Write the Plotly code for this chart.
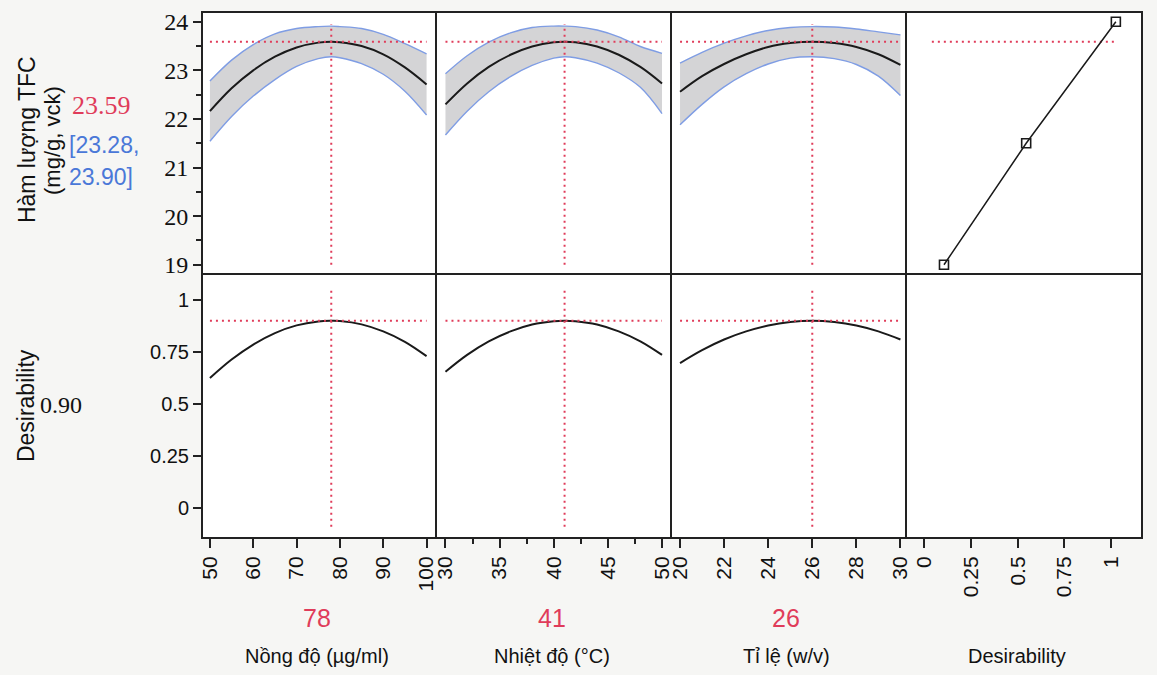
import plotly.graph_objects as go
from plotly.subplots import make_subplots

# ---------------- data ----------------
# Panel 1: Nồng độ (µg/ml)
conc_x = [50, 55, 60, 65, 70, 75, 78, 80, 85, 90, 95, 100]
conc_tfc = [22.16, 22.63, 23.00, 23.28, 23.47, 23.57, 23.59, 23.58, 23.50, 23.33, 23.06, 22.71]
conc_hi = [22.78, 23.21, 23.53, 23.75, 23.86, 23.90, 23.91, 23.90, 23.86, 23.74, 23.55, 23.34]
conc_lo = [21.54, 22.05, 22.47, 22.81, 23.08, 23.24, 23.28, 23.26, 23.14, 22.92, 22.57, 22.08]
conc_des = [0.625, 0.714, 0.786, 0.841, 0.878, 0.897, 0.900, 0.899, 0.883, 0.849, 0.799, 0.730]

# Panel 2: Nhiệt độ (°C)
temp_x = [30, 32, 34, 36, 38, 40, 41, 42, 44, 46, 48, 50]
temp_tfc = [22.30, 22.73, 23.07, 23.32, 23.49, 23.58, 23.59, 23.58, 23.49, 23.32, 23.07, 22.73]
temp_hi = [22.93, 23.30, 23.58, 23.77, 23.88, 23.91, 23.91, 23.90, 23.83, 23.69, 23.49, 23.35]
temp_lo = [21.67, 22.16, 22.56, 22.87, 23.10, 23.25, 23.28, 23.26, 23.15, 22.95, 22.65, 22.11]
temp_des = [0.655, 0.736, 0.801, 0.849, 0.882, 0.898, 0.900, 0.898, 0.882, 0.849, 0.801, 0.736]

# Panel 3: Tỉ lệ (w/v)
ratio_x = [20, 21, 22, 23, 24, 25, 26, 27, 28, 29, 30]
ratio_tfc = [22.56, 22.88, 23.13, 23.33, 23.48, 23.56, 23.59, 23.56, 23.48, 23.33, 23.11]
ratio_hi = [23.15, 23.37, 23.56, 23.71, 23.82, 23.88, 23.90, 23.89, 23.85, 23.79, 23.73]
ratio_lo = [21.88, 22.30, 22.66, 22.93, 23.13, 23.25, 23.28, 23.24, 23.12, 22.88, 22.48]
ratio_des = [0.697, 0.759, 0.810, 0.849, 0.877, 0.894, 0.900, 0.894, 0.877, 0.849, 0.810]

# Panel 4: desirability function of TFC
dfun_des = [0.105, 0.545, 1.025]
dfun_tfc = [19.0, 21.5, 24.0]

# Current settings / predictions
settings = [78, 41, 26]
pred_tfc = 23.59
pred_lo, pred_hi = 23.28, 23.90
pred_des = 0.90
vline_span_top = [19.0, 23.95]
vline_span_bot = [-0.09, 1.06]
dfun_hline_x = [0.04, 1.03]

x_titles = ["Nồng độ (µg/ml)", "Nhiệt độ (°C)", "Tỉ lệ (w/v)", "Desirability"]
x_ranges = [[48.17, 102.06], [29.08, 50.83], [19.59, 30.23], [-0.101, 1.165]]
x_tickvals = [[50, 60, 70, 80, 90, 100], [30, 35, 40, 45, 50], [20, 22, 24, 26, 28, 30],
              [0, 0.25, 0.5, 0.75, 1]]
x_ticktext = [["50", "60", "70", "80", "90", "100"], ["30", "35", "40", "45", "50"],
              ["20", "22", "24", "26", "28", "30"], ["0", "0.25", "0.5", "0.75", "1"]]
y_top_ticks = [19, 20, 21, 22, 23, 24]
y_bot_ticks = [0, 0.25, 0.5, 0.75, 1]
y_bot_text = ["0", "0.25", "0.5", "0.75", "1"]

# ---------------- style ----------------
RED = "#e03c5a"
BLUE_LINE = "#7f9de4"
BLUE_TXT = "#4a78d8"
BAND = "#d4d4d6"
SANS = "Liberation Sans, Arial, sans-serif"
SERIF = "Liberation Serif, Times New Roman, serif"
INK = "#222222"

W, H = 1157, 675
L, R, T, B = 202, 1148, 12, 538
PW, PH = R - L, B - T


def px(xp):
    return (xp - L) / PW


def py(yp):
    return (B - yp) / PH


fig = make_subplots(rows=2, cols=4, horizontal_spacing=0, vertical_spacing=0)

panels = [
    (conc_x, conc_tfc, conc_hi, conc_lo, conc_des),
    (temp_x, temp_tfc, temp_hi, temp_lo, temp_des),
    (ratio_x, ratio_tfc, ratio_hi, ratio_lo, ratio_des),
]

dotted = "2px,4px"

for i, (xs, tfc, hi, lo, des) in enumerate(panels):
    c = i + 1
    fig.add_trace(go.Scatter(x=xs, y=lo, mode="lines", line=dict(color=BLUE_LINE, width=1.4, shape="spline"),
                             hoverinfo="skip", showlegend=False), row=1, col=c)
    fig.add_trace(go.Scatter(x=xs, y=hi, mode="lines", line=dict(color=BLUE_LINE, width=1.4, shape="spline"),
                             fill="tonexty", fillcolor=BAND, hoverinfo="skip", showlegend=False), row=1, col=c)
    fig.add_trace(go.Scatter(x=xs, y=tfc, mode="lines", line=dict(color="#1a1a1a", width=2, shape="spline"),
                             showlegend=False), row=1, col=c)
    fig.add_trace(go.Scatter(x=[xs[0], xs[-1]], y=[pred_tfc, pred_tfc], mode="lines",
                             line=dict(color=RED, width=2, dash=dotted), showlegend=False), row=1, col=c)
    fig.add_trace(go.Scatter(x=[settings[i], settings[i]], y=vline_span_top, mode="lines",
                             line=dict(color=RED, width=2, dash=dotted), showlegend=False), row=1, col=c)
    fig.add_trace(go.Scatter(x=xs, y=des, mode="lines", line=dict(color="#1a1a1a", width=2, shape="spline"),
                             showlegend=False), row=2, col=c)
    fig.add_trace(go.Scatter(x=[xs[0], xs[-1]], y=[pred_des, pred_des], mode="lines",
                             line=dict(color=RED, width=2, dash=dotted), showlegend=False), row=2, col=c)
    fig.add_trace(go.Scatter(x=[settings[i], settings[i]], y=vline_span_bot, mode="lines",
                             line=dict(color=RED, width=2, dash=dotted), showlegend=False), row=2, col=c)

fig.add_trace(go.Scatter(x=dfun_hline_x, y=[pred_tfc, pred_tfc], mode="lines",
                         line=dict(color=RED, width=2, dash=dotted), showlegend=False), row=1, col=4)
fig.add_trace(go.Scatter(x=dfun_des, y=dfun_tfc, mode="lines+markers",
                         line=dict(color="#1a1a1a", width=1.5),
                         marker=dict(symbol="square-open", size=9, color="#1a1a1a", line=dict(width=1.6)),
                         showlegend=False), row=1, col=4)
# empty lower-right cell (keeps its frame)
fig.add_trace(go.Scatter(x=[None], y=[None], mode="lines", showlegend=False, hoverinfo="skip"),
              row=2, col=4)

# ---------------- axes ----------------
xb = [0, 235 / PW, 472 / PW, 708 / PW, 1.0]
yb = [0, 264 / PH, 1.0]

axis_common = dict(showline=True, mirror=True, linecolor=INK, linewidth=1,
                   showgrid=False, zeroline=False)

for r in (1, 2):
    for c in (1, 2, 3, 4):
        idx = (r - 1) * 4 + c
        sfx = "" if idx == 1 else str(idx)
        xdict = dict(axis_common, domain=[xb[c - 1], xb[c]], range=x_ranges[c - 1], anchor="y" + sfx)
        ydom = [yb[1], yb[2]] if r == 1 else [yb[0], yb[1]]
        yrng = [18.81, 24.2] if r == 1 else [-0.144, 1.125]
        ydict = dict(axis_common, domain=ydom, range=yrng, anchor="x" + sfx)
        if r == 2:
            xdict.update(tickmode="array", tickvals=x_tickvals[c - 1], ticktext=x_ticktext[c - 1],
                         ticks="outside", ticklen=9, tickwidth=1.5, tickcolor=INK,
                         tickangle=-90, tickfont=dict(family=SANS, size=21, color="#111"))
            if c == 2:
                xdict["minor"] = dict(tickvals=[32.5, 37.5, 42.5, 47.5], ticks="outside",
                                      ticklen=5, tickwidth=1.5, tickcolor=INK)
        else:
            xdict.update(showticklabels=False, ticks="")
        if c == 1:
            if r == 1:
                ydict.update(tickmode="array", tickvals=y_top_ticks, ticks="outside", ticklen=8,
                             tickwidth=1.5, tickcolor=INK,
                             tickfont=dict(family=SERIF, size=24, color="#111"),
                             minor=dict(dtick=0.5, tick0=19, ticks="outside", ticklen=5,
                                        tickwidth=1.5, tickcolor=INK))
            else:
                ydict.update(tickmode="array", tickvals=y_bot_ticks, ticktext=y_bot_text,
                             ticks="outside", ticklen=8, tickwidth=1.5, tickcolor=INK,
                             tickfont=dict(family=SANS, size=20, color="#111"))
        else:
            ydict.update(showticklabels=False, ticks="")
        fig.layout["xaxis" + sfx] = xdict
        fig.layout["yaxis" + sfx] = ydict

# ---------------- annotations ----------------
ann = []


def add(text, xp, yp, size, family, color="#111", angle=0, xanchor="center"):
    ann.append(dict(text=text, x=px(xp), y=py(yp), xref="paper", yref="paper", showarrow=False,
                    font=dict(size=size, family=family, color=color), textangle=angle,
                    xanchor=xanchor, yanchor="middle"))


add("Hàm lượng TFC", 26, 140, 23, SANS, angle=-90)
add("(mg/g, vck)", 51, 140, 22, SANS, angle=-90)
add(f"{pred_tfc:.2f}", 133, 106, 26, SERIF, color=RED, xanchor="right")
add(f"[{pred_lo:.2f},", 66, 145, 23, SANS, color=BLUE_TXT, xanchor="left")
add(f"{pred_hi:.2f}]", 66, 177, 23, SANS, color=BLUE_TXT, xanchor="left")
add("Desirability", 25, 406, 23, SANS, angle=-90)
add(f"{pred_des:.2f}", 37, 405, 24, SERIF, xanchor="left")

centers = [318, 554, 790, 1022]
for i in range(3):
    add(str(settings[i]), centers[i], 618, 25, SANS, color=RED)
for i in range(4):
    add(x_titles[i], centers[i], 656, 20, SANS)

fig.update_layout(
    width=W, height=H,
    margin=dict(l=L, r=W - R, t=T, b=H - B),
    paper_bgcolor="#f6f6f4",
    plot_bgcolor="#ffffff",
    showlegend=False,
    annotations=ann,
    shapes=[dict(type="rect", xref="paper", yref="paper", x0=0, x1=1, y0=0, y1=1,
                 line=dict(color=INK, width=2), layer="above")],
)

fig.write_html("out.html")
